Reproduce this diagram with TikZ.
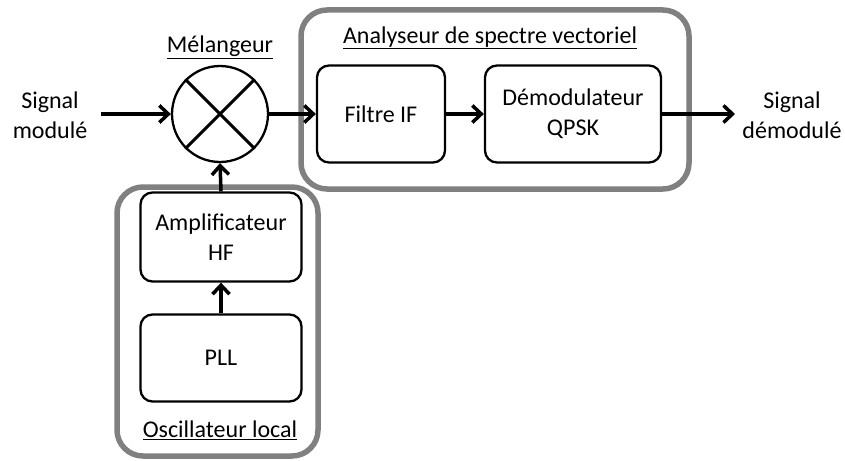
\documentclass[tikz,border=0pt]{standalone}
\usepackage{fontspec}
\setmainfont{Carlito}
\usetikzlibrary{arrows.meta}
\begin{document}
\begin{tikzpicture}[x=1pt,y=-1pt,
  every node/.style={font=\fontsize{24}{30}\selectfont, align=center, inner sep=0pt},
  blk/.style={draw=black, line width=2.3pt, rounded corners=12pt, fill=white},
  grp/.style={draw=black!50, line width=5.5pt, rounded corners=26pt},
  arr/.style={line width=3.5pt, -{Straight Barb[length=9pt,width=17pt,line width=3.5pt]}}]
\useasboundingbox (0,0) rectangle (845,460);
% group boxes
\draw[grp] (301,10) rectangle (689,189);
\draw[grp] (117,187) rectangle (318,456);
% blocks
\node[blk, minimum width=128pt, minimum height=97pt] (filt) at (381,114) {Filtre IF};
\node[blk, minimum width=176pt, minimum height=97pt] (demod) at (573,114) {Démodulateur\\QPSK};
\node[blk, minimum width=161pt, minimum height=89pt] (amp) at (221,237) {Amplificateur\\HF};
\node[blk, minimum width=161pt, minimum height=87pt] (pll) at (221,358) {PLL};
% mixer
\node[draw=black, line width=2.3pt, circle, minimum size=96pt, fill=white] (mix) at (220,114) {};
\draw[line width=3pt] (mix.45) -- (mix.225);
\draw[line width=3pt] (mix.135) -- (mix.315);
% labels
\node (tmix) at (220,47) {\underline{Mélangeur}};
\node (tana) at (490,38) {\underline{Analyseur de spectre vectoriel}};
\node (tosc) at (220,430) {\underline{Oscillateur local}};
\node (in) at (50,115) {Signal\\modulé};
\node (out) at (792,115) {Signal\\démodulé};
\coordinate (inend) at (101,114);
\coordinate (outend) at (735,114);
% connectors
\draw[arr] (inend) -- (mix.west);
\draw[arr] (mix.east) -- (filt.west);
\draw[arr] (filt.east) -- (demod.west);
\draw[arr] (demod.east) -- (outend);
\draw[arr] (pll.north) -- (amp.south);
\draw[arr] (amp.north) -- (mix.south);
\end{tikzpicture}
\end{document}
